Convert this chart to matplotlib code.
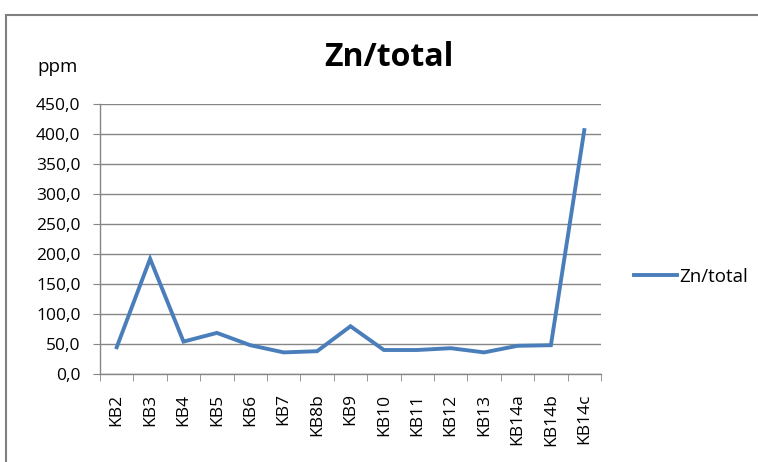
import numpy as np
import matplotlib.pyplot as plt
from matplotlib.patches import Rectangle

samples = ['KB2', 'KB3', 'KB4', 'KB5', 'KB6', 'KB7', 'KB8b', 'KB9', 'KB10',
           'KB11', 'KB12', 'KB13', 'KB14a', 'KB14b', 'KB14c']
zn_total = [44.6, 192.0, 54.0, 68.5, 48.0, 36.0, 38.0, 79.6, 40.0,
            40.0, 43.0, 36.0, 47.0, 48.0, 406.5]
yticks = np.arange(0, 451, 50)

fig = plt.figure(figsize=(7.58, 4.62), dpi=100)
ax = fig.add_axes([100/758, 1-374/462, 501/758, 270/462])

x = np.arange(len(samples))
ax.plot(x, zn_total, color='#4A7EBB', lw=2.8, solid_joinstyle='miter',
        label='Zn/total')

ax.set_xlim(-0.5, len(samples) - 0.5)
ax.set_ylim(0, 450)
ax.set_yticks(yticks)
ax.set_yticklabels([f'{v:.1f}'.replace('.', ',') for v in yticks],
                   fontsize=12.5, family='Open Sans')
ax.set_xticks(x)
ax.set_xticklabels(samples, rotation=90, fontsize=12.5, family='Open Sans')
ax.set_xticks(np.arange(-0.5, len(samples), 1), minor=True)
ax.tick_params(axis='x', which='major', length=0, pad=14)
ax.tick_params(axis='x', which='minor', length=5, color='#868686')
ax.tick_params(axis='y', length=5, color='#868686', pad=9)
ax.grid(axis='y', color='#868686', lw=1)
ax.set_axisbelow(True)
for s in ['top', 'right']:
    ax.spines[s].set_visible(False)
for s in ['left', 'bottom']:
    ax.spines[s].set_color('#868686')
    ax.spines[s].set_linewidth(1)

fig.text(389/758, 1-57/462, 'Zn/total', ha='center', va='center',
         fontsize=23, fontweight='bold', family='Open Sans')
fig.text(37/758, 1-67/462, 'ppm', ha='left', va='center', fontsize=13.5,
         family='Open Sans')

fig.legend(loc='center left', bbox_to_anchor=(617/758, 1-277/462), frameon=False,
           prop={'family': 'Open Sans', 'size': 13.5}, handlelength=2.3,
           handletextpad=0.12)

fig.patches.append(Rectangle((6/758, -0.1), 2, (462-15)/462 + 0.1,
                             transform=fig.transFigure, fill=False,
                             edgecolor='#808080', lw=1.5))

fig.savefig('out.png', dpi=100)
